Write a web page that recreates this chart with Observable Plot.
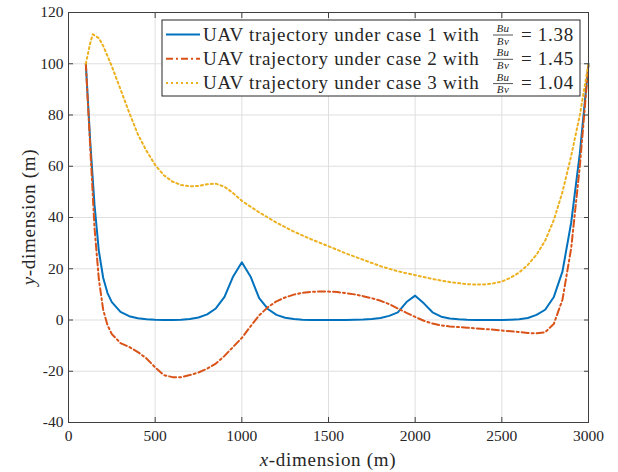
<!DOCTYPE html>
<html>
<head>
<meta charset="utf-8">
<script src="https://cdn.jsdelivr.net/npm/d3@7"></script>
<script src="https://cdn.jsdelivr.net/npm/@observablehq/plot@0.6"></script>
<style>
  body { margin: 0; background: #fff; }
  svg { display: block; }
  svg text { font-family: "Liberation Serif", "Times New Roman", serif !important; }
</style>
</head>
<body>
<div id="chart"></div>
<script>
// UAV trajectories (x, y in metres) for the three cases
const case1X = [100, 125, 150, 175, 200, 225, 250, 300, 350, 400,
                450, 500, 550, 600, 650, 700, 750, 800, 850, 900,
                950, 1000, 1050, 1100, 1150, 1200, 1250, 1300, 1350, 1400,
                1450, 1500, 1550, 1600, 1650, 1700, 1750, 1800, 1850, 1900,
                1950, 2000, 2050, 2100, 2150, 2200, 2250, 2300, 2350, 2400,
                2450, 2500, 2550, 2600, 2650, 2700, 2750, 2800, 2850, 2900,
                2950, 3000];
const case1Y = [100, 70, 45, 27, 16.5, 10.5, 7, 3.2, 1.5, 0.7,
                0.3, 0.1, 0, 0, 0.1, 0.4, 1, 2.2, 4.5, 9,
                17, 22.5, 17, 8.5, 4.3, 2, 0.9, 0.4, 0.1, 0,
                0, 0, 0, 0, 0.1, 0.2, 0.4, 0.8, 1.6, 3,
                7, 9.5, 6.5, 3, 1.3, 0.6, 0.3, 0.1, 0, 0,
                0, 0, 0.1, 0.3, 0.8, 2, 4, 9, 19, 38,
                65, 100];

const case2X = [100, 125, 150, 175, 200, 225, 250, 300, 350, 400,
                450, 500, 550, 600, 650, 700, 750, 800, 850, 900,
                950, 1000, 1050, 1100, 1150, 1200, 1250, 1300, 1350, 1400,
                1450, 1500, 1550, 1600, 1650, 1700, 1750, 1800, 1850, 1900,
                1950, 2000, 2050, 2100, 2150, 2200, 2300, 2400, 2500, 2600,
                2650, 2700, 2750, 2800, 2850, 2900, 2950, 3000];
const case2Y = [100, 68, 36, 16, 4, -2, -5.5, -9, -10.5, -12.5,
                -15, -18.5, -21.5, -22.3, -22.3, -21.5, -20.5, -19, -17, -14,
                -10.5, -7, -2.5, 1.8, 5, 7.3, 8.8, 9.9, 10.6, 11,
                11.1, 11.1, 10.9, 10.5, 10, 9.3, 8.5, 7.5, 6.2, 4.5,
                2.8, 1.2, -0.3, -1.4, -2.1, -2.5, -3, -3.5, -4.1, -4.7,
                -5.1, -5.2, -4.8, -1.5, 8, 28, 60, 100];

const case3X = [100, 125, 140, 175, 200, 250, 300, 350, 400, 450,
                500, 550, 600, 650, 700, 750, 800, 850, 900, 950,
                1000, 1100, 1200, 1300, 1400, 1500, 1600, 1700, 1800, 1900,
                2000, 2100, 2200, 2300, 2350, 2400, 2450, 2500, 2550, 2600,
                2650, 2700, 2750, 2800, 2850, 2900, 2950, 3000];
const case3Y = [100, 108, 111.5, 110, 107, 99, 90, 81, 72.5, 66,
                60.5, 56.5, 54, 52.7, 52.2, 52.3, 53, 53.2, 52, 49.5,
                46.5, 42, 38, 34.5, 31.5, 28.8, 26, 23.5, 21, 19,
                17.5, 16, 14.8, 14, 13.8, 13.9, 14.3, 15, 16.5, 18.5,
                21.5, 25.5, 31, 39, 50, 64, 80, 100];

// Legend entries
const caseNames = ["case 1", "case 2", "case 3"];
const ratios = [1.38, 1.45, 1.04];

// Axis ticks
const xTicks = [0, 500, 1000, 1500, 2000, 2500, 3000];
const yTicks = [-40, -20, 0, 20, 40, 60, 80, 100, 120];

const colors = ["#0072BD", "#D95319", "#EDB120"];
const dashes = [null, "7,3,2,3", "2,3"];

const seriesX = [case1X, case2X, case3X];
const seriesY = [case1Y, case2Y, case3Y];
const rows = caseNames.map((name, k) =>
  seriesX[k].map((x, i) => ({x, y: seriesY[k][i], name})));

const font = "Liberation Serif, Times New Roman, serif";
const axisColor = "#404040";

const lineMarks = rows.map((data, k) =>
  Plot.line(data, {
    x: "x", y: "y",
    stroke: colors[k], strokeWidth: 2,
    strokeDasharray: dashes[k],
    strokeLinejoin: "round"
  }));

const svg = Plot.plot({
  width: 618, height: 472,
  marginLeft: 68, marginRight: 30, marginTop: 12, marginBottom: 50,
  style: {fontFamily: font, fontSize: "15.5px", color: "#262626", background: "#fff"},
  x: {domain: [0, 3000]},
  y: {domain: [-40, 120]},
  marks: [
    Plot.gridX(xTicks, {stroke: "#dfdfdf", strokeOpacity: 1}),
    Plot.gridY(yTicks, {stroke: "#dfdfdf", strokeOpacity: 1}),
    ...lineMarks,
    Plot.frame({stroke: axisColor}),
    Plot.axisX(xTicks, {anchor: "bottom", tickSize: -5, tickPadding: 12, stroke: axisColor,
      tickFormat: d => String(d), label: null, fill: "#262626"}),
    Plot.axisX(xTicks, {anchor: "top", tickSize: -5, stroke: axisColor, tickFormat: () => "", label: null}),
    Plot.axisY(yTicks, {anchor: "left", tickSize: -5, tickPadding: 10, stroke: axisColor,
      tickFormat: d => String(d), label: null, fill: "#262626"}),
    Plot.axisY(yTicks, {anchor: "right", tickSize: -5, stroke: axisColor, tickFormat: () => "", label: null})
  ]
});

document.getElementById("chart").appendChild(svg);

const root = d3.select(svg);
const labelStyle = s => s
  .attr("font-size", 19)
  .attr("letter-spacing", "0.7px")
  .attr("fill", "#262626");

// Axis titles
const xt = root.append("text").attr("x", 328).attr("y", 466).attr("text-anchor", "middle");
labelStyle(xt);
xt.append("tspan").attr("font-style", "italic").text("x");
xt.append("tspan").text("-dimension (m)");

const yt = root.append("text").attr("transform", "translate(35,217) rotate(-90)").attr("text-anchor", "middle");
labelStyle(yt);
yt.append("tspan").attr("font-style", "italic").text("y");
yt.append("tspan").text("-dimension (m)");

// Legend box
const lg = root.append("g").attr("text-anchor", "start");
lg.append("rect")
  .attr("x", 162).attr("y", 20).attr("width", 418).attr("height", 76)
  .attr("fill", "#fff").attr("stroke", "#262626").attr("stroke-width", 1);

caseNames.forEach((name, k) => {
  const base = 40.5 + k * 24.3;
  lg.append("line")
    .attr("x1", 166).attr("x2", 200)
    .attr("y1", base - 6).attr("y2", base - 6)
    .attr("stroke", colors[k]).attr("stroke-width", 2)
    .attr("stroke-dasharray", dashes[k]);
  const t = lg.append("text").attr("x", 203).attr("y", base).attr("text-anchor", "start");
  labelStyle(t);
  t.text(`UAV trajectory under ${name} with`);
  // fraction Bu / Bv
  const fx = 503;
  const frac = (txt, y) => lg.append("text").attr("x", fx).attr("y", y)
    .attr("text-anchor", "middle")
    .attr("font-size", 11).attr("font-style", "italic").attr("letter-spacing", "0.4px")
    .attr("fill", "#262626").text(txt);
  frac("Bu", base - 8.5);
  lg.append("line").attr("x1", fx - 10).attr("x2", fx + 10)
    .attr("y1", base - 5.5).attr("y2", base - 5.5)
    .attr("stroke", "#262626").attr("stroke-width", 0.8);
  frac("Bv", base + 4);
  const eq = lg.append("text").attr("x", 521).attr("y", base).attr("text-anchor", "start");
  labelStyle(eq);
  eq.text(`= ${ratios[k].toFixed(2)}`);
});
</script>
</body>
</html>
